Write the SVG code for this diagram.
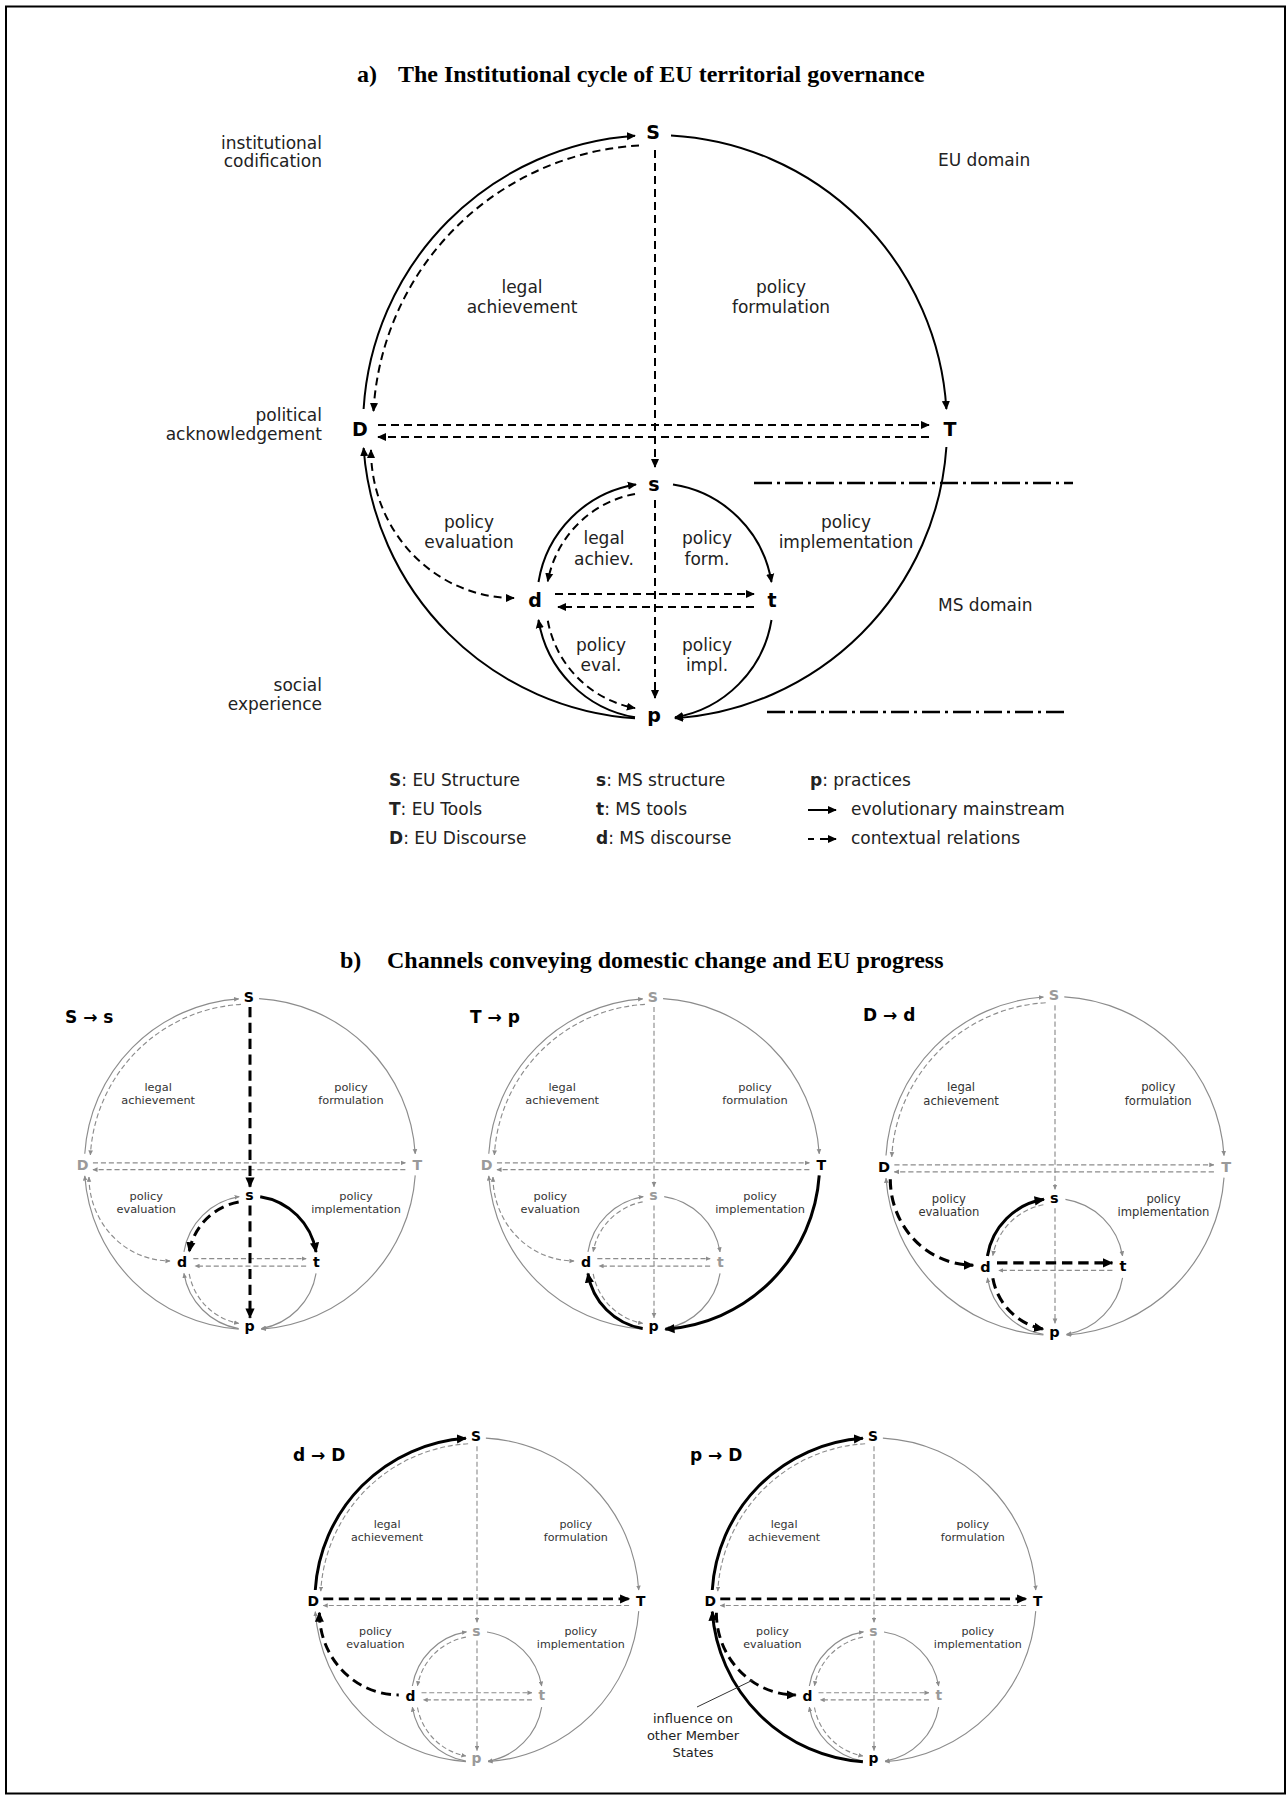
<svg xmlns="http://www.w3.org/2000/svg" width="1287" height="1796" viewBox="0 0 1287 1796">
<style>
.title{font-family:"Liberation Serif","Times New Roman",serif;font-weight:bold;font-size:24px;fill:#000}
.lbl{font-family:"DejaVu Sans",Verdana,sans-serif;font-size:17px;fill:#222}
.e{text-anchor:end}.m{text-anchor:middle}
.node{font-family:"DejaVu Sans",Verdana,sans-serif;font-weight:bold;font-size:19px;text-anchor:middle;fill:#000}
.pn{font-family:"DejaVu Sans",Verdana,sans-serif;font-weight:bold;font-size:25px;text-anchor:middle}
.k{fill:#000}.g{fill:#9a9a9a}
.pl{font-family:"DejaVu Sans",Verdana,sans-serif;font-size:20px;text-anchor:middle;fill:#333}
.ptitle{font-family:"DejaVu Sans",Verdana,sans-serif;font-weight:bold;font-size:17px;fill:#000}
.s{fill:none;stroke:#000;stroke-width:2}
.d{fill:none;stroke:#000;stroke-width:2;stroke-dasharray:8 5}
.gs{fill:none;stroke:#8c8c8c;stroke-width:2}
.gd{fill:none;stroke:#8c8c8c;stroke-width:2;stroke-dasharray:9 5}
.ks{fill:none;stroke:#000;stroke-width:5.3}
.kd{fill:none;stroke:#000;stroke-width:5.3;stroke-dasharray:18 10}
.dd{fill:none;stroke:#000;stroke-width:2.5;stroke-dasharray:18 5 3 5}
</style>
<defs>
<marker id="ak" viewBox="0 0 10 10" refX="9" refY="5" markerWidth="4.5" markerHeight="4.5" orient="auto-start-reverse"><path d="M0,0.5 L10,5 L0,9.5 z" fill="#000"/></marker>
<marker id="ag" viewBox="0 0 10 10" refX="9" refY="5" markerWidth="4.5" markerHeight="4.5" orient="auto-start-reverse"><path d="M0,0.5 L10,5 L0,9.5 z" fill="#8c8c8c"/></marker>
<marker id="at" viewBox="0 0 10 10" refX="9" refY="5" markerWidth="3.4" markerHeight="3.4" orient="auto-start-reverse"><path d="M0,0.5 L10,5 L0,9.5 z" fill="#000"/></marker>
<path id="c1" d="M -291.4 -18 A 292 292 0 0 1 -20 -291.3"/>
<path id="c2" d="M 16 -291.6 A 292 292 0 0 1 291.4 -18"/>
<path id="c3" d="M 291.4 20 A 292 292 0 0 1 20 291.3"/>
<path id="c4" d="M -20 291.3 A 292 292 0 0 1 -291.4 21"/>
<path id="c5" d="M -16 -281.5 A 282 282 0 0 0 -281.5 -16"/>
<path id="c6" d="M -284 23 A 143 148 0 0 0 -141 171"/>
<path id="c7" d="M -277 -2 L 274 -2"/>
<path id="c8" d="M 274 10 L -277 10"/>
<path id="c9" d="M 0 -277 L 0 40"/>
<path id="c10" d="M 0 73 L 0 271"/>
<path id="c11" d="M -116.5 155 A 118 118 0 0 1 -19 57.5"/>
<path id="c12" d="M 18 57.6 A 118 118 0 0 1 116.5 155"/>
<path id="c13" d="M 116.5 193 A 118 118 0 0 1 20 290.3"/>
<path id="c14" d="M -20 290.3 A 118 118 0 0 1 -116.5 193"/>
<path id="c15" d="M -20 66.9 A 109 109 0 0 0 -107.2 154.3"/>
<path id="c16" d="M -107.2 193.7 A 109 109 0 0 0 -20 281.1"/>
<path id="c17" d="M -100 167 L 99 167"/>
<path id="c18" d="M 99 180 L -97 180"/>
</defs>
<rect x="6" y="6.5" width="1279" height="1787" fill="#fff" stroke="#000" stroke-width="2"/>

<text class="title" x="357" y="82">a)</text>
<text class="title" x="398" y="82">The Institutional cycle of EU territorial governance</text>

<g id="labels-a">
<text class="lbl e" x="322" y="149">institutional</text>
<text class="lbl e" x="322" y="167">codification</text>
<text class="lbl e" x="322" y="421">political</text>
<text class="lbl e" x="322" y="440">acknowledgement</text>
<text class="lbl e" x="322" y="691">social</text>
<text class="lbl e" x="322" y="710">experience</text>
<text class="lbl" x="938" y="166">EU domain</text>
<text class="lbl" x="938" y="611">MS domain</text>
<text class="lbl m" x="522" y="293">legal</text>
<text class="lbl m" x="522" y="313">achievement</text>
<text class="lbl m" x="781" y="293">policy</text>
<text class="lbl m" x="781" y="313">formulation</text>
<text class="lbl m" x="469" y="528">policy</text>
<text class="lbl m" x="469" y="548">evaluation</text>
<text class="lbl m" x="846" y="528">policy</text>
<text class="lbl m" x="846" y="548">implementation</text>
<text class="lbl m" x="604" y="544">legal</text>
<text class="lbl m" x="604" y="565">achiev.</text>
<text class="lbl m" x="707" y="544">policy</text>
<text class="lbl m" x="707" y="565">form.</text>
<text class="lbl m" x="601" y="651">policy</text>
<text class="lbl m" x="601" y="671">eval.</text>
<text class="lbl m" x="707" y="651">policy</text>
<text class="lbl m" x="707" y="671">impl.</text>
</g>

<g id="domain-lines">
<path class="dd" d="M754 483 L1073 483"/>
<path class="dd" d="M767 712 L1065 712"/>
</g>

<g id="connectors-a" transform="translate(655,427)">
<use href="#c1" class="s" marker-end="url(#ak)"/>
<use href="#c2" class="s" marker-end="url(#ak)"/>
<use href="#c3" class="s" marker-end="url(#ak)"/>
<use href="#c4" class="s" marker-end="url(#ak)"/>
<use href="#c5" class="d" marker-end="url(#ak)"/>
<use href="#c6" class="d" marker-start="url(#ak)" marker-end="url(#ak)"/>
<use href="#c7" class="d" marker-end="url(#ak)"/>
<use href="#c8" class="d" marker-end="url(#ak)"/>
<use href="#c9" class="d" marker-end="url(#ak)"/>
<use href="#c10" class="d" marker-end="url(#ak)"/>
<use href="#c11" class="s" marker-end="url(#ak)"/>
<use href="#c12" class="s" marker-end="url(#ak)"/>
<use href="#c13" class="s" marker-end="url(#ak)"/>
<use href="#c14" class="s" marker-end="url(#ak)"/>
<use href="#c15" class="d" marker-end="url(#ak)"/>
<use href="#c16" class="d" marker-end="url(#ak)"/>
<use href="#c17" class="d" marker-end="url(#ak)"/>
<use href="#c18" class="d" marker-end="url(#ak)"/>
</g>

<g id="nodes-a">
<g id="node-S"><text class="node" x="653" y="139">S</text></g>
<g id="node-D"><text class="node" x="360" y="436">D</text></g>
<g id="node-T"><text class="node" x="950" y="436">T</text></g>
<g id="node-s"><text class="node" x="654" y="491">s</text></g>
<g id="node-d"><text class="node" x="535" y="607">d</text></g>
<g id="node-t"><text class="node" x="772" y="607">t</text></g>
<g id="node-p"><text class="node" x="654" y="722">p</text></g>
</g>

<g id="legend">
<text class="lbl" x="389" y="786"><tspan font-weight="bold">S</tspan>: EU Structure</text>
<text class="lbl" x="389" y="815"><tspan font-weight="bold">T</tspan>: EU Tools</text>
<text class="lbl" x="389" y="844"><tspan font-weight="bold">D</tspan>: EU Discourse</text>
<text class="lbl" x="596" y="786"><tspan font-weight="bold">s</tspan>: MS structure</text>
<text class="lbl" x="596" y="815"><tspan font-weight="bold">t</tspan>: MS tools</text>
<text class="lbl" x="596" y="844"><tspan font-weight="bold">d</tspan>: MS discourse</text>
<text class="lbl" x="810" y="786"><tspan font-weight="bold">p</tspan>: practices</text>
<path class="s" d="M808 810 L836 810" marker-end="url(#ak)"/>
<text class="lbl" x="851" y="815">evolutionary mainstream</text>
<path class="s" d="M808 839 L814 839 M820 839 L836 839" marker-end="url(#ak)"/>
<text class="lbl" x="851" y="844">contextual relations</text>
</g>

<text class="title" x="340" y="968">b)</text>
<text class="title" x="387" y="968">Channels conveying domestic change and EU progress</text>

<!-- Panel 1 -->
<text class="ptitle" x="65" y="1023">S → s</text>
<g id="panel1" transform="translate(250,1164) scale(0.567)">
<g id="p1-connectors">
<use href="#c1" class="gs" marker-end="url(#ag)"/>
<use href="#c2" class="gs" marker-end="url(#ag)"/>
<use href="#c3" class="gs" marker-end="url(#ag)"/>
<use href="#c4" class="gs" marker-end="url(#ag)"/>
<use href="#c5" class="gd" marker-end="url(#ag)"/>
<use href="#c6" class="gd" marker-start="url(#ag)" marker-end="url(#ag)"/>
<use href="#c7" class="gd" marker-end="url(#ag)"/>
<use href="#c8" class="gd" marker-end="url(#ag)"/>
<use href="#c11" class="gs" marker-end="url(#ag)"/>
<use href="#c13" class="gs" marker-end="url(#ag)"/>
<use href="#c14" class="gs" marker-end="url(#ag)"/>
<use href="#c16" class="gd" marker-end="url(#ag)"/>
<use href="#c17" class="gd" marker-end="url(#ag)"/>
<use href="#c18" class="gd" marker-end="url(#ag)"/>
<use href="#c9" class="kd" marker-end="url(#at)"/>
<use href="#c10" class="kd" marker-end="url(#at)"/>
<use href="#c12" class="ks" marker-end="url(#at)"/>
<use href="#c15" class="kd" marker-end="url(#at)"/>
</g>
<text class="pl" x="-162" y="-129">legal</text><text class="pl" x="-162" y="-106">achievement</text>
<text class="pl" x="178" y="-129">policy</text><text class="pl" x="178" y="-106">formulation</text>
<text class="pl" x="-183" y="63">policy</text><text class="pl" x="-183" y="86">evaluation</text>
<text class="pl" x="187" y="63">policy</text><text class="pl" x="187" y="86">implementation</text>
<g id="p1-S"><text class="pn k" x="-2" y="-286">S</text></g>
<g id="p1-D"><text class="pn g" x="-295" y="11">D</text></g>
<g id="p1-T"><text class="pn g" x="295" y="11">T</text></g>
<g id="p1-s"><text class="pn k" x="-1" y="64">s</text></g>
<g id="p1-d"><text class="pn k" x="-120" y="182">d</text></g>
<g id="p1-t"><text class="pn k" x="117" y="181">t</text></g>
<g id="p1-p"><text class="pn k" x="-1" y="294">p</text></g>
</g>

<!-- Panel 2 -->
<text class="ptitle" x="470" y="1023">T → p</text>
<g id="panel2" transform="translate(654,1164) scale(0.567)">
<g id="p2-connectors">
<use href="#c1" class="gs" marker-end="url(#ag)"/>
<use href="#c2" class="gs" marker-end="url(#ag)"/>
<use href="#c4" class="gs" marker-end="url(#ag)"/>
<use href="#c5" class="gd" marker-end="url(#ag)"/>
<use href="#c6" class="gd" marker-start="url(#ag)" marker-end="url(#ag)"/>
<use href="#c7" class="gd" marker-end="url(#ag)"/>
<use href="#c8" class="gd" marker-end="url(#ag)"/>
<use href="#c9" class="gd" marker-end="url(#ag)"/>
<use href="#c10" class="gd" marker-end="url(#ag)"/>
<use href="#c11" class="gs" marker-end="url(#ag)"/>
<use href="#c12" class="gs" marker-end="url(#ag)"/>
<use href="#c13" class="gs" marker-end="url(#ag)"/>
<use href="#c15" class="gd" marker-end="url(#ag)"/>
<use href="#c16" class="gd" marker-end="url(#ag)"/>
<use href="#c17" class="gd" marker-end="url(#ag)"/>
<use href="#c18" class="gd" marker-end="url(#ag)"/>
<use href="#c3" class="ks" marker-end="url(#at)"/>
<use href="#c14" class="ks" marker-end="url(#at)"/>
</g>
<text class="pl" x="-162" y="-129">legal</text><text class="pl" x="-162" y="-106">achievement</text>
<text class="pl" x="178" y="-129">policy</text><text class="pl" x="178" y="-106">formulation</text>
<text class="pl" x="-183" y="63">policy</text><text class="pl" x="-183" y="86">evaluation</text>
<text class="pl" x="187" y="63">policy</text><text class="pl" x="187" y="86">implementation</text>
<g id="p2-S"><text class="pn g" x="-2" y="-286">S</text></g>
<g id="p2-D"><text class="pn g" x="-295" y="11">D</text></g>
<g id="p2-T"><text class="pn k" x="295" y="11">T</text></g>
<g id="p2-s"><text class="pn g" x="-1" y="64">s</text></g>
<g id="p2-d"><text class="pn k" x="-120" y="182">d</text></g>
<g id="p2-t"><text class="pn g" x="117" y="181">t</text></g>
<g id="p2-p"><text class="pn k" x="-1" y="294">p</text></g>
</g>

<!-- Panel 3 -->
<text class="ptitle" x="863" y="1021">D → d</text>
<g id="panel3" transform="translate(1055,1166) scale(0.58)">
<g id="p3-connectors">
<use href="#c1" class="gs" marker-end="url(#ag)"/>
<use href="#c2" class="gs" marker-end="url(#ag)"/>
<use href="#c3" class="gs" marker-end="url(#ag)"/>
<use href="#c4" class="gs" marker-end="url(#ag)"/>
<use href="#c5" class="gd" marker-end="url(#ag)"/>
<use href="#c7" class="gd" marker-end="url(#ag)"/>
<use href="#c8" class="gd" marker-end="url(#ag)"/>
<use href="#c9" class="gd" marker-end="url(#ag)"/>
<use href="#c10" class="gd" marker-end="url(#ag)"/>
<use href="#c12" class="gs" marker-end="url(#ag)"/>
<use href="#c13" class="gs" marker-end="url(#ag)"/>
<use href="#c14" class="gs" marker-end="url(#ag)"/>
<use href="#c15" class="gd" marker-end="url(#ag)"/>
<use href="#c18" class="gd" marker-end="url(#ag)"/>
<use href="#c6" class="kd" marker-end="url(#at)"/>
<use href="#c11" class="ks" marker-end="url(#at)"/>
<use href="#c17" class="kd" marker-end="url(#at)"/>
<use href="#c16" class="kd" marker-end="url(#at)"/>
</g>
<text class="pl" x="-162" y="-129">legal</text><text class="pl" x="-162" y="-106">achievement</text>
<text class="pl" x="178" y="-129">policy</text><text class="pl" x="178" y="-106">formulation</text>
<text class="pl" x="-183" y="63">policy</text><text class="pl" x="-183" y="86">evaluation</text>
<text class="pl" x="187" y="63">policy</text><text class="pl" x="187" y="86">implementation</text>
<g id="p3-S"><text class="pn g" x="-2" y="-286">S</text></g>
<g id="p3-D"><text class="pn k" x="-295" y="11">D</text></g>
<g id="p3-T"><text class="pn g" x="295" y="11">T</text></g>
<g id="p3-s"><text class="pn k" x="-1" y="64">s</text></g>
<g id="p3-d"><text class="pn k" x="-120" y="182">d</text></g>
<g id="p3-t"><text class="pn k" x="117" y="181">t</text></g>
<g id="p3-p"><text class="pn k" x="-1" y="294">p</text></g>
</g>

<!-- Panel 4 -->
<text class="ptitle" x="293" y="1461">d → D</text>
<g id="panel4" transform="translate(477,1600) scale(0.555)">
<g id="p4-connectors">
<use href="#c2" class="gs" marker-end="url(#ag)"/>
<use href="#c3" class="gs" marker-end="url(#ag)"/>
<use href="#c4" class="gs" marker-end="url(#ag)"/>
<use href="#c5" class="gd" marker-end="url(#ag)"/>
<use href="#c8" class="gd" marker-end="url(#ag)"/>
<use href="#c9" class="gd" marker-end="url(#ag)"/>
<use href="#c10" class="gd" marker-end="url(#ag)"/>
<use href="#c11" class="gs" marker-end="url(#ag)"/>
<use href="#c12" class="gs" marker-end="url(#ag)"/>
<use href="#c13" class="gs" marker-end="url(#ag)"/>
<use href="#c14" class="gs" marker-end="url(#ag)"/>
<use href="#c15" class="gd" marker-end="url(#ag)"/>
<use href="#c16" class="gd" marker-end="url(#ag)"/>
<use href="#c17" class="gd" marker-end="url(#ag)"/>
<use href="#c18" class="gd" marker-end="url(#ag)"/>
<use href="#c6" class="kd" marker-start="url(#at)"/>
<use href="#c1" class="ks" marker-end="url(#at)"/>
<use href="#c7" class="kd" marker-end="url(#at)"/>
</g>
<text class="pl" x="-162" y="-129">legal</text><text class="pl" x="-162" y="-106">achievement</text>
<text class="pl" x="178" y="-129">policy</text><text class="pl" x="178" y="-106">formulation</text>
<text class="pl" x="-183" y="63">policy</text><text class="pl" x="-183" y="86">evaluation</text>
<text class="pl" x="187" y="63">policy</text><text class="pl" x="187" y="86">implementation</text>
<g id="p4-S"><text class="pn k" x="-2" y="-286">S</text></g>
<g id="p4-D"><text class="pn k" x="-295" y="11">D</text></g>
<g id="p4-T"><text class="pn k" x="295" y="11">T</text></g>
<g id="p4-s"><text class="pn g" x="-1" y="64">s</text></g>
<g id="p4-d"><text class="pn k" x="-120" y="182">d</text></g>
<g id="p4-t"><text class="pn g" x="117" y="181">t</text></g>
<g id="p4-p"><text class="pn g" x="-1" y="294">p</text></g>
</g>

<!-- Panel 5 -->
<text class="ptitle" x="690" y="1461">p → D</text>
<g id="panel5" transform="translate(874,1600) scale(0.555)">
<g id="p5-connectors">
<use href="#c2" class="gs" marker-end="url(#ag)"/>
<use href="#c3" class="gs" marker-end="url(#ag)"/>
<use href="#c5" class="gd" marker-end="url(#ag)"/>
<use href="#c8" class="gd" marker-end="url(#ag)"/>
<use href="#c9" class="gd" marker-end="url(#ag)"/>
<use href="#c10" class="gd" marker-end="url(#ag)"/>
<use href="#c11" class="gs" marker-end="url(#ag)"/>
<use href="#c12" class="gs" marker-end="url(#ag)"/>
<use href="#c13" class="gs" marker-end="url(#ag)"/>
<use href="#c14" class="gs" marker-end="url(#ag)"/>
<use href="#c15" class="gd" marker-end="url(#ag)"/>
<use href="#c16" class="gd" marker-end="url(#ag)"/>
<use href="#c17" class="gd" marker-end="url(#ag)"/>
<use href="#c18" class="gd" marker-end="url(#ag)"/>
<use href="#c4" class="ks" marker-end="url(#at)"/>
<use href="#c1" class="ks" marker-end="url(#at)"/>
<use href="#c7" class="kd" marker-end="url(#at)"/>
<use href="#c6" class="kd" marker-end="url(#at)"/>
</g>
<text class="pl" x="-162" y="-129">legal</text><text class="pl" x="-162" y="-106">achievement</text>
<text class="pl" x="178" y="-129">policy</text><text class="pl" x="178" y="-106">formulation</text>
<text class="pl" x="-183" y="63">policy</text><text class="pl" x="-183" y="86">evaluation</text>
<text class="pl" x="187" y="63">policy</text><text class="pl" x="187" y="86">implementation</text>
<g id="p5-S"><text class="pn k" x="-2" y="-286">S</text></g>
<g id="p5-D"><text class="pn k" x="-295" y="11">D</text></g>
<g id="p5-T"><text class="pn k" x="295" y="11">T</text></g>
<g id="p5-s"><text class="pn g" x="-1" y="64">s</text></g>
<g id="p5-d"><text class="pn k" x="-120" y="182">d</text></g>
<g id="p5-t"><text class="pn g" x="117" y="181">t</text></g>
<g id="p5-p"><text class="pn k" x="-1" y="294">p</text></g>
</g>
<g id="annotation">
<path d="M753 1680 L697 1707" fill="none" stroke="#333" stroke-width="1"/>
<text class="lbl m" x="693" y="1723" style="font-size:13px">influence on</text>
<text class="lbl m" x="693" y="1740" style="font-size:13px">other Member</text>
<text class="lbl m" x="693" y="1757" style="font-size:13px">States</text>
</g>
</svg>
